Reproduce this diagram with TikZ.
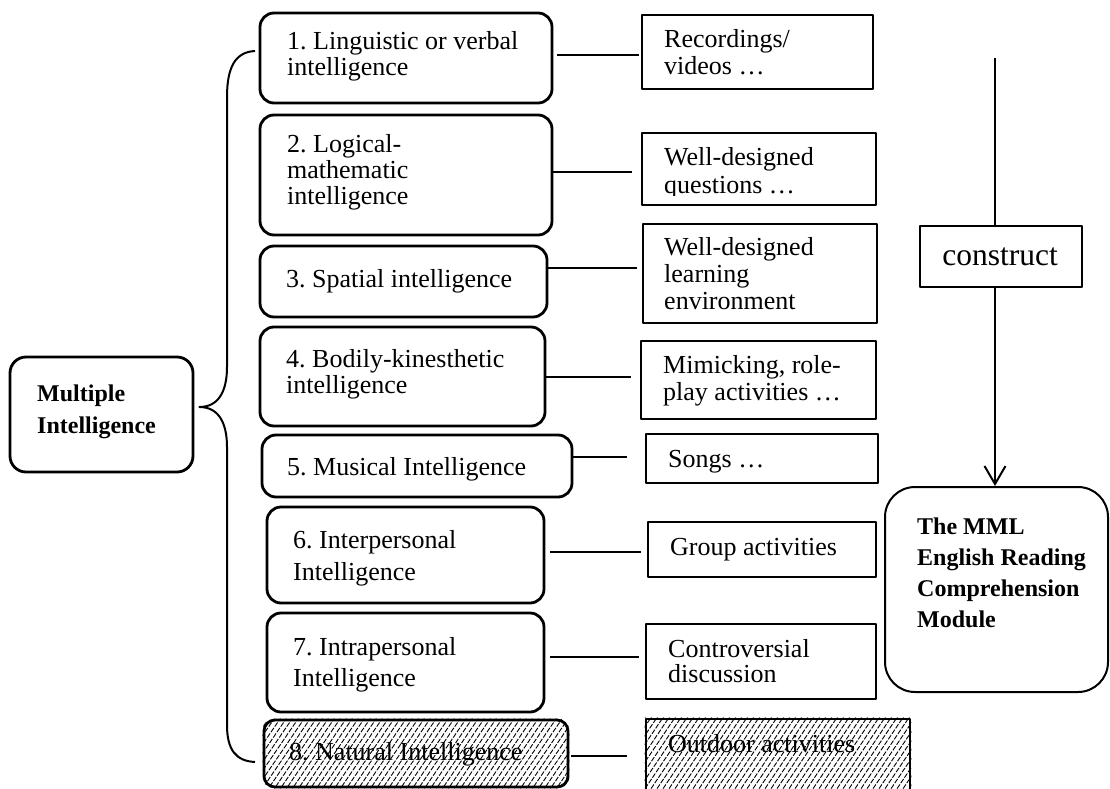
\documentclass[tikz,border=0pt]{standalone}
\usepackage{fontspec}
\setmainfont{Liberation Serif}
\usetikzlibrary{arrows.meta,calc}
\frenchspacing

% text block: size, line distance, lines separated by \\
\newcommand{\txtlines}[3]{{\fontsize{#1}{#2}\selectfont\begin{tabular}[t]{@{}l@{}}#3\end{tabular}}}

\begin{document}
\begin{tikzpicture}[x=1pt,y=-1pt,line join=round,
  ibox/.style={draw,line width=2.8pt,rounded corners=14pt,fill=white,inner sep=0pt},
  abox/.style={draw,line width=2.8pt,fill=white,inner sep=0pt},
  txt/.style={anchor=base west,inner sep=0pt},
  conn/.style={line width=2.8pt},
  thinline/.style={line width=2pt},
  hatch/.style={line width=0.9pt,dash pattern=on 5pt off 1.6pt}]

\useasboundingbox (0,0) rectangle (1110,789);

% ---- intelligences (left column) ----
\node[ibox,minimum width=292pt,minimum height=90pt]  (b1) at (406,58) {};
\node[ibox,minimum width=292pt,minimum height=120pt] (b2) at (406,175) {};
\node[ibox,minimum width=287pt,minimum height=71pt]  (b3) at (403.5,281.5) {};
\node[ibox,minimum width=285pt,minimum height=99pt]  (b4) at (402.5,376.5) {};
\node[ibox,minimum width=310pt,minimum height=62pt]  (b5) at (417,466) {};
\node[ibox,minimum width=277pt,minimum height=96pt]  (b6) at (405.5,555) {};
\node[ibox,minimum width=277pt,minimum height=99pt]  (b7) at (405.5,662.5) {};
\node[ibox,rounded corners=11pt,minimum width=304pt,minimum height=67pt] (b8) at (416,753.5) {};

\node[txt] (t1) at (287,50)  {\txtlines{26}{26}{1. Linguistic or verbal\\intelligence}};
\node[txt] (t2) at (287,152) {\txtlines{26}{26}{2. Logical-\\mathematic\\intelligence}};
\node[txt] (t3) at (286,287) {\txtlines{26}{26}{3. Spatial intelligence}};
\node[txt] (t4) at (286,367) {\txtlines{26}{26}{4. Bodily-kinesthetic\\intelligence}};
\node[txt] (t5) at (287,475) {\txtlines{26}{26}{5. Musical Intelligence}};
\node[txt] (t6) at (293,548) {\txtlines{26}{32}{6. Interpersonal\\Intelligence}};
\node[txt] (t7) at (293,655) {\txtlines{26}{31}{7. Intrapersonal\\Intelligence}};
\node[txt] (t8) at (289,760) {\txtlines{26}{26}{8. Natural Intelligence}};

% ---- activities (middle column) ----
\node[abox,minimum width=231pt,minimum height=74pt] (r1) at (757.5,52) {};
\node[abox,minimum width=234pt,minimum height=72pt] (r2) at (759,169) {};
\node[abox,minimum width=234pt,minimum height=99pt] (r3) at (760,273.5) {};
\node[abox,minimum width=235pt,minimum height=78pt] (r4) at (758.5,380) {};
\node[abox,minimum width=232pt,minimum height=49pt] (r5) at (762,458.5) {};
\node[abox,minimum width=228pt,minimum height=55pt] (r6) at (762,549.5) {};
\node[abox,minimum width=230pt,minimum height=75pt] (r7) at (761,661.5) {};
\node[abox,minimum width=264pt,minimum height=81pt] (r8) at (778,759.5) {};

\node[txt] (s1) at (664,48)  {\txtlines{26}{27}{Recordings/\\videos …}};
\begin{scope}
  \clip (r2.north west) rectangle ($(r2.south east)+(0,-11)$);
  \node[txt] (s2) at (664,165) {\txtlines{26}{28}{Well-designed\\questions …}};
\end{scope}
\node[txt] (s3) at (664,255) {\txtlines{26}{27}{Well-designed\\learning\\environment}};
\node[txt] (s4) at (663,373) {\txtlines{26}{27}{Mimicking, role-\\play activities …}};
\node[txt] (s5) at (668,467) {\txtlines{26}{26}{Songs …}};
\node[txt] (s6) at (670,555) {\txtlines{26}{26}{Group activities}};
\node[txt] (s7) at (668,657) {\txtlines{26}{25}{Controversial\\discussion}};
\node[txt] (s8) at (668,752) {\txtlines{26}{26}{Outdoor activities}};

% hatching of the eighth row
\begin{scope}
  \clip[rounded corners=11pt] (b8.south west) rectangle (b8.north east);
  \foreach \i in {200,206,...,600} \draw[hatch] (\i,792) -- (\i+52,716);
\end{scope}
\begin{scope}
  \clip (r8.south west) rectangle (r8.north east);
  \foreach \i in {580,586,...,930} \draw[hatch] (\i,805) -- (\i+60,716);
\end{scope}

% ---- connectors ----
\draw[conn] ($(b1.east |- r1.west)+(4,3)$)    -- ($(r1.west)+(-2,3)$);
\draw[conn] ($(b2.east |- r2.west)+(0,3)$)    -- ($(r2.west)+(-9,3)$);
\draw[conn] ($(b3.east |- r3.west)+(0,-5.5)$) -- ($(r3.west)+(-5,-5.5)$);
\draw[conn] ($(b4.east |- r4.west)+(0,-3)$)   -- ($(r4.west)+(-9,-3)$);
\draw[conn] ($(b5.east |- r5.west)+(0,-1.5)$) -- ($(r5.west)+(-18,-1.5)$);
\draw[conn] ($(b6.east |- r6.west)+(5,2.5)$)  -- ($(r6.west)+(-6,2.5)$);
\draw[conn] ($(b7.east |- r7.west)+(5,-4.5)$) -- ($(r7.west)+(-6,-4.5)$);
\draw[conn] ($(b8.east |- r8.west)+(2,-3.5)$) -- ($(r8.west)+(-18,-3.5)$);

% ---- root and brace ----
\node[ibox,rounded corners=16pt,minimum width=183pt,minimum height=115pt] (mi) at (101.5,414.5) {};
\node[txt] (mit) at (37,401) {\txtlines{24}{32}{\bfseries Multiple\\\bfseries Intelligence}};

\coordinate (bt) at (255,51);
\coordinate (bb) at (255,762);
\coordinate (tip) at ($(mi.east)+(5,-7.5)$);
\draw[thinline] (bt) .. controls (236,52) and (227,66) .. (227,97)
  -- (227,367) .. controls (227,392) and (218,407) .. (tip)
  .. controls (218,407) and (227,422) .. (227,447)
  -- (227,725) .. controls (227,750) and (236,761) .. (bb);

% ---- construct and module ----
\node[draw,line width=2pt,inner sep=0pt,minimum width=162pt,minimum height=61pt] (cons) at (1001,256.5) {};
\node[anchor=base,inner sep=0pt] (ct) at (1000,265) {\fontsize{31.5}{32}\selectfont construct};
\node[draw,line width=2pt,rounded corners=30pt,inner sep=0pt,minimum width=223pt,minimum height=205pt] (mml) at (996.5,589.5) {};
\node[txt] (mmlt) at (917,534) {\txtlines{24}{31.3}{\bfseries The MML\\\bfseries English Reading\\\bfseries Comprehension\\\bfseries Module}};

\coordinate (top) at (995,58);
\draw[thinline] (top) -- (top |- cons.north);
\draw[thinline,-{Straight Barb[length=18pt,width=21pt]}] (top |- cons.south) -- (top |- mml.north);
\end{tikzpicture}
\end{document}
